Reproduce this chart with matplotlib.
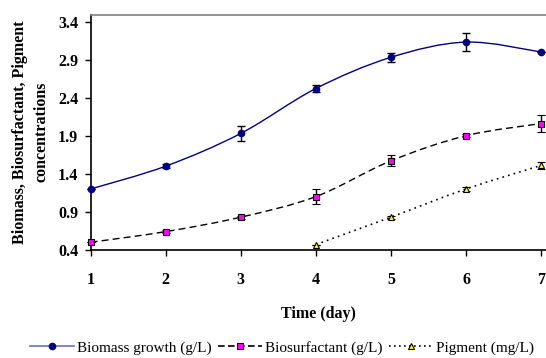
import matplotlib.pyplot as plt
from matplotlib.path import Path
from matplotlib.patches import PathPatch
from matplotlib.lines import Line2D
import numpy as np

plt.rcParams['font.family'] = ['Liberation Serif', 'DejaVu Serif']

days = [1, 2, 3, 4, 5, 6, 7]
biomass = [1.2, 1.5, 1.93, 2.52, 2.93, 3.13, 3.0]
biomass_err = [0.0, 0.03, 0.1, 0.05, 0.06, 0.12, 0.0]
biosurf = [0.5, 0.64, 0.83, 1.1, 1.57, 1.9, 2.06]
biosurf_err = [0.0, 0.02, 0.02, 0.1, 0.07, 0.02, 0.11]
pig_days = [4, 5, 6, 7]
pigment = [0.47, 0.83, 1.2, 1.51]
pigment_err = [0.0, 0.02, 0.03, 0.05]


def smooth_path(x, y):
    # excel-like smoothed line: bezier segments with catmull-rom control points
    p = np.column_stack([x, y]).astype(float)
    ext = np.vstack([p[0], p, p[-1]])
    verts = [p[0]]
    codes = [Path.MOVETO]
    for i in range(len(p) - 1):
        p0, p1, p2, p3 = ext[i], ext[i + 1], ext[i + 2], ext[i + 3]
        verts += [p1 + (p2 - p0) / 6, p2 - (p3 - p1) / 6, p2]
        codes += [Path.CURVE4] * 3
    return Path(verts, codes)


fig = plt.figure(figsize=(5.46, 3.58), dpi=100)
ax = fig.add_axes([0.166, 0.302, 0.836, 0.657])

ax.add_patch(PathPatch(smooth_path(days, biomass), fill=False, ec='#000080', lw=1.0))
ax.add_patch(PathPatch(smooth_path(days, biosurf), fill=False, ec='black', lw=1.0,
                       ls=(0, (5, 3))))
ax.add_patch(PathPatch(smooth_path(pig_days, pigment), fill=False, ec='black', lw=1.2,
                       ls=(0, (1, 2.5))))

ax.errorbar(days, biomass, yerr=biomass_err, fmt='o', ms=4.5, mfc='#000080', mec='#000080',
            ecolor='black', elinewidth=1, capsize=3, zorder=3, clip_on=False)
ax.errorbar(days, biosurf, yerr=biosurf_err, fmt='s', ms=4.5, mfc='#ff00ff', mec='black',
            mew=0.8, ecolor='black', elinewidth=1, capsize=3, zorder=3, clip_on=False)
ax.errorbar(pig_days, pigment, yerr=pigment_err, fmt='^', ms=4.5, mfc='#ffff00', mec='black',
            mew=0.8, ecolor='black', elinewidth=1, capsize=3, zorder=3, clip_on=False)

ax.set_xlim(1, 7.08)
ax.set_ylim(0.4, 3.49)
ax.set_xticks(days)
ax.set_yticks([0.4, 0.9, 1.4, 1.9, 2.4, 2.9, 3.4])
ax.set_yticklabels(['0.4', '0.9', '1.4', '1.9', '2.4', '2.9', '3.4'])
ax.tick_params(labelsize=11.5, length=4, width=1, direction='out', color='black')
for lab in ax.get_xticklabels() + ax.get_yticklabels():
    lab.set_fontweight('bold')
ax.tick_params(axis='x', pad=12)
ax.tick_params(axis='y', pad=5)

ax.spines['right'].set_visible(False)
ax.spines['top'].set_color('#808080')
ax.spines['top'].set_linewidth(1.2)
ax.spines['left'].set_linewidth(1.2)
ax.spines['bottom'].set_linewidth(1.2)

ax.set_xlabel('Time (day)', fontsize=11.5, fontweight='bold', labelpad=13)
ax.set_ylabel('Biomass, Biosurfactant, Pigment\nconcentrations', fontsize=11.5,
              fontweight='bold', labelpad=6, linespacing=1.5)

handles = [
    Line2D([], [], color='#7070c0', lw=1.2, marker='o', ms=4.5, mfc='#000080', mec='#000080'),
    Line2D([], [], color='black', lw=1.2, ls=(0, (4, 2)), marker='s', ms=4.5, mfc='#ff00ff',
           mec='black', mew=0.8),
    Line2D([], [], color='black', lw=1.2, ls=(0, (1, 2)), marker='^', ms=4.5, mfc='#ffff00',
           mec='black', mew=0.8),
]
fig.legend(handles, ['Biomass growth (g/L)', 'Biosurfactant (g/L)', 'Pigment (mg/L)'],
           loc='center', bbox_to_anchor=(0.516, 0.028), ncol=3, frameon=False, fontsize=11,
           handlelength=2.9, handletextpad=0.2, columnspacing=0.4)

fig.savefig('out.png', dpi=100)
